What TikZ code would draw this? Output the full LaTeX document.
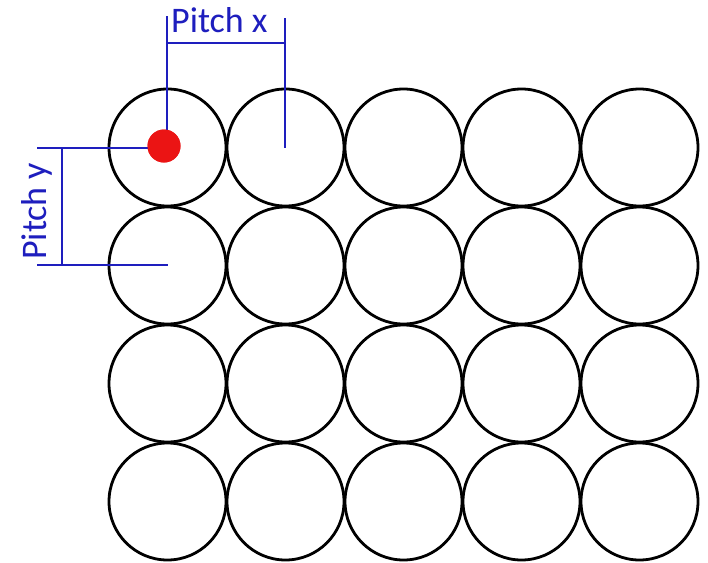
\documentclass[tikz,border=0pt]{standalone}
\usepackage{fontspec}
\setmainfont{Carlito}
\definecolor{dimblue}{RGB}{30,30,190}
\definecolor{dotred}{RGB}{235,20,20}
\begin{document}
\begin{tikzpicture}[x=1pt,y=-1pt,
  cell/.style={circle,draw=black,line width=2.8pt,minimum size=117pt,inner sep=0pt},
  dim/.style={draw=dimblue,line width=2.8pt},
  dimtext/.style={text=dimblue,font=\fontsize{36}{36}\selectfont,inner sep=0pt}]
\useasboundingbox[fill=white] (0,0) rectangle (708,562);
\foreach \i in {1,...,5}{
  \foreach \j in {1,...,4}{
    \node[cell] (c\i\j) at ({167.5+118*(\i-1)},{147.5+118*(\j-1)}) {};
  }
}
\node[circle,fill=dotred,minimum size=33pt,inner sep=0pt] (dot) at (164,146) {};
% Pitch x
\coordinate (xt1) at (167,16);
\coordinate (xm1) at (167,43);
\coordinate (xt2) at (285,18);
\coordinate (xm2) at (285,43);
\coordinate (xb2) at (285,148);
\draw[dim] (xt1) -- (xt1 |- dot.center);
\draw[dim] (xm1) -- (xm2);
\draw[dim] (xt2) -- (xb2);
\node[dimtext,anchor=base west] (px) at (171,32) {Pitch x};
% Pitch y
\coordinate (yl1) at (37,148);
\coordinate (ym1) at (62,148);
\coordinate (yl2) at (37,265);
\coordinate (ym2) at (62,265);
\coordinate (yr2) at (168,265);
\draw[dim] (yl1) -- (dot.center |- yl1);
\draw[dim] (ym1) -- (ym2);
\draw[dim] (yl2) -- (yr2);
\node[dimtext,anchor=base west,rotate=90] (py) at (46,260) {Pitch y};
\fill[dotred] (dot.center) circle (16.5pt);
\end{tikzpicture}
\end{document}
